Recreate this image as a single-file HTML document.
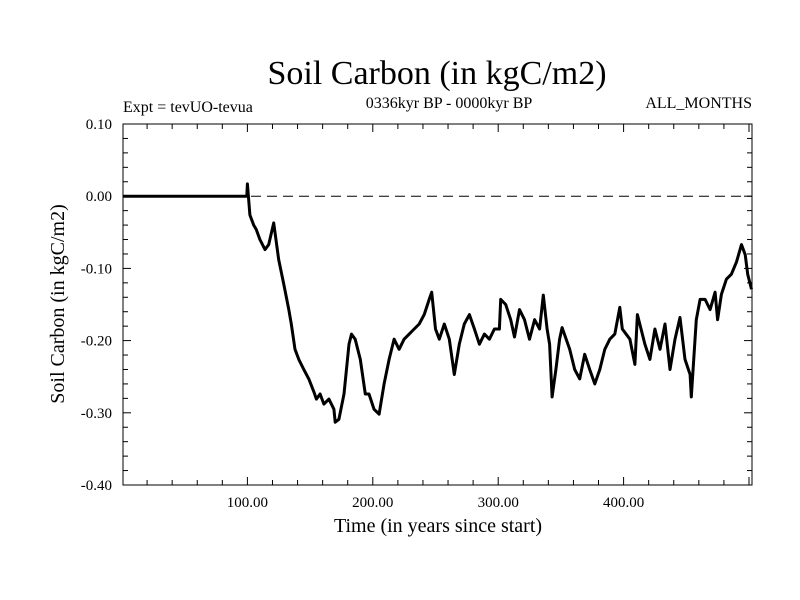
<!DOCTYPE html>
<html><head><meta charset="utf-8"><style>
body{margin:0;background:#fff}
svg{display:block;font-family:"Liberation Serif",serif}
</style></head><body>
<svg id="chart" width="800" height="600">
<text x="437" y="84" font-size="34" text-anchor="middle">Soil Carbon (in kgC/m2)</text>
<text x="449" y="108" font-size="16" text-anchor="middle">0336kyr BP - 0000kyr BP</text>
<text x="123" y="112" font-size="16">Expt = tevUO-tevua</text>
<text x="752" y="108" font-size="16" text-anchor="end">ALL_MONTHS</text>
<text x="438" y="532" font-size="20" text-anchor="middle">Time (in years since start)</text>
<text transform="translate(64,304) rotate(-90)" font-size="20" text-anchor="middle">Soil Carbon (in kgC/m2)</text>
<g id="axes"></g>
<g id="series"></g>
</svg>
<script>
const years=[0,99.5,100,102,105,107,110,114,117,121,125,129,133,135,138,141,145,149,153,155,158,161,165,169,170,173,177,181,183,186,190,194,197,201,205,209,213,217,221,225,229,233,237,241,245,247,250,253,257,261,265,269,273,277,281,285,289,293,297,301,302,306,310,313,317,321,325,329,333,336,339,341,343,346,349,351,357,361,365,369,373,377,381,385,389,393,397,399,405,409,411,417,421,425,429,433,437,441,445,449,453,454,458,461,465,469,473,475,478,482,486,490,494,497,499,502];
const carbon=[0,0,0.017,-0.026,-0.040,-0.046,-0.060,-0.074,-0.067,-0.037,-0.088,-0.122,-0.157,-0.177,-0.212,-0.226,-0.240,-0.253,-0.271,-0.281,-0.274,-0.288,-0.281,-0.295,-0.313,-0.309,-0.274,-0.205,-0.191,-0.198,-0.226,-0.274,-0.274,-0.295,-0.302,-0.260,-0.226,-0.198,-0.212,-0.198,-0.191,-0.184,-0.177,-0.164,-0.143,-0.133,-0.184,-0.198,-0.177,-0.198,-0.247,-0.205,-0.177,-0.164,-0.184,-0.205,-0.191,-0.198,-0.184,-0.184,-0.143,-0.150,-0.171,-0.195,-0.157,-0.171,-0.198,-0.171,-0.184,-0.137,-0.184,-0.205,-0.278,-0.240,-0.198,-0.182,-0.212,-0.240,-0.253,-0.219,-0.240,-0.260,-0.240,-0.212,-0.198,-0.191,-0.154,-0.184,-0.198,-0.233,-0.164,-0.205,-0.226,-0.184,-0.212,-0.177,-0.240,-0.198,-0.168,-0.226,-0.247,-0.278,-0.171,-0.143,-0.143,-0.157,-0.133,-0.171,-0.136,-0.115,-0.108,-0.091,-0.067,-0.081,-0.108,-0.129];
const xTicks=[100,200,300,400];
const xTickLabels=["100.00","200.00","300.00","400.00"];
const yTicks=[0.10,0.00,-0.10,-0.20,-0.30,-0.40];
const yTickLabels=["0.10","0.00","-0.10","-0.20","-0.30","-0.40"];
const L=123,R=752,T=124,B=485,xMin=0.8,xMax=502.4,yMin=-0.40,yMax=0.10;
const X=v=>L+(v-xMin)/(xMax-xMin)*(R-L);
const Y=v=>B-(v-yMin)/(yMax-yMin)*(B-T);
const NS="http://www.w3.org/2000/svg";
function mk(tag,attrs,parent){const e=document.createElementNS(NS,tag);for(const k in attrs)e.setAttribute(k,attrs[k]);parent.appendChild(e);return e;}
const ax=document.getElementById('axes');
const frame=mk('rect',{x:L,y:T,width:R-L,height:B-T,fill:'none',stroke:'#000','stroke-width':1},ax);


for(let t=20;t<xMax;t+=20){const big=t%100===0;const len=big?8:5;const x=X(t);
mk('line',{x1:x,y1:B,x2:x,y2:B-len,stroke:'#000'},ax);mk('line',{x1:x,y1:T,x2:x,y2:T+len,stroke:'#000'},ax);}
for(let i=0;i<=25;i++){const v=yMin+i*0.02;const big=i%5===0;const len=big?8:5;const y=Y(v);
mk('line',{x1:L,y1:y,x2:L+len,y2:y,stroke:'#000'},ax);mk('line',{x1:R,y1:y,x2:R-len,y2:y,stroke:'#000'},ax);}
xTicks.forEach((t,i)=>{const e=mk('text',{x:X(t),y:507,'font-size':15,'text-anchor':'middle'},ax);e.textContent=xTickLabels[i];

});
yTicks.forEach((v,i)=>{const e=mk('text',{x:112,y:Y(v)+5,'font-size':15,'text-anchor':'end'},ax);e.textContent=yTickLabels[i];

});
const zero=mk('line',{x1:L,y1:Y(0),x2:R,y2:Y(0),stroke:'#000','stroke-dasharray':'10,6'},ax);


const sg=document.getElementById('series');
const pts=years.map((t,i)=>X(Math.max(t,xMin)).toFixed(1)+','+Y(carbon[i]).toFixed(1)).join(' ');
const line=mk('polyline',{points:pts,fill:'none',stroke:'#000','stroke-width':3,'stroke-linejoin':'round'},sg);


</script>
</body></html>
